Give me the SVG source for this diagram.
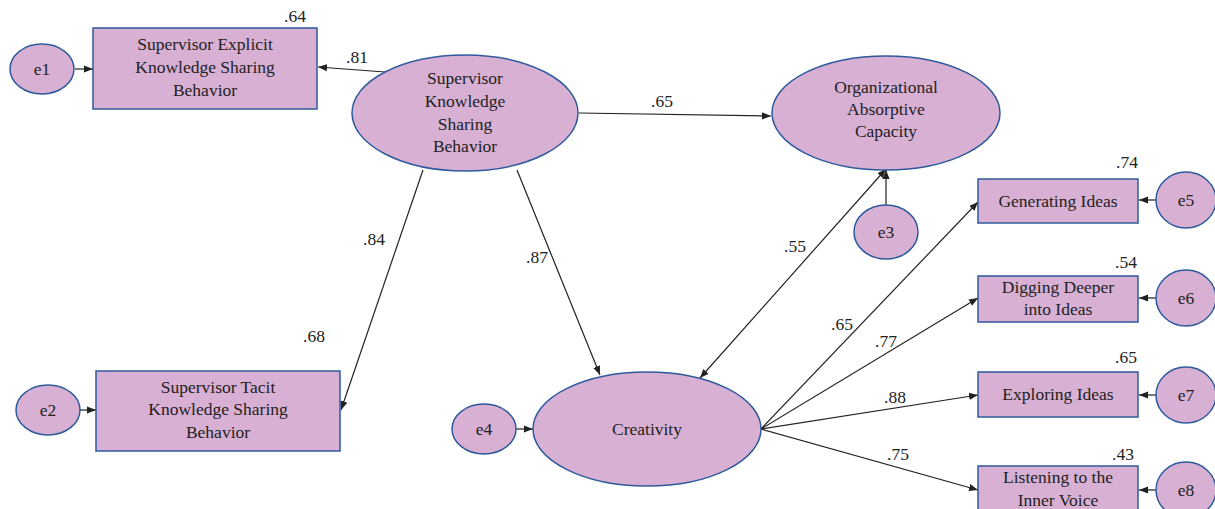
<svg xmlns="http://www.w3.org/2000/svg" width="1215" height="509" viewBox="0 0 1215 509">
<defs>
<marker id="ah" viewBox="0 0 10 10" refX="10" refY="5" markerWidth="9" markerHeight="9" markerUnits="userSpaceOnUse" orient="auto-start-reverse">
<path d="M0,1 L10,5 L0,9 z" fill="#222"/>
</marker>
<style>
.n{fill:#d8b0d4;stroke:#2e5a9c;stroke-width:1.5}
.t{font-family:"Liberation Serif",serif;font-size:17.5px;fill:#222;text-anchor:middle}
.c{stroke:#222;stroke-width:1.2;fill:none;marker-end:url(#ah)}
</style>
</defs>
<rect width="1215" height="509" fill="#fff"/>
<g id="connectors">
<line class="c" x1="75" y1="69" x2="93" y2="69"/>
<line class="c" x1="80" y1="410" x2="96" y2="410"/>
<line class="c" x1="516" y1="429" x2="533" y2="429"/>
<line class="c" x1="385" y1="72" x2="318" y2="67"/>
<line class="c" x1="579" y1="113" x2="771" y2="116"/>
<line class="c" x1="886" y1="205" x2="886" y2="170"/>
<line class="c" x1="423" y1="170" x2="341" y2="410"/>
<line class="c" x1="517" y1="170" x2="600" y2="375"/>
<line class="c" x1="700" y1="378" x2="886" y2="169" marker-start="url(#ah)"/>
<line class="c" x1="761" y1="429" x2="978" y2="202"/>
<line class="c" x1="761" y1="429" x2="978" y2="298"/>
<line class="c" x1="761" y1="429" x2="978" y2="395"/>
<line class="c" x1="761" y1="429" x2="978" y2="490"/>
<line class="c" x1="1156" y1="200" x2="1139" y2="200"/>
<line class="c" x1="1156" y1="298" x2="1139" y2="298"/>
<line class="c" x1="1156" y1="395" x2="1139" y2="395"/>
<line class="c" x1="1156" y1="490" x2="1139" y2="490"/>
<text class="t" x="357" y="63">.81</text>
<text class="t" x="662" y="107">.65</text>
<text class="t" x="374" y="245">.84</text>
<text class="t" x="537" y="263">.87</text>
<text class="t" x="795" y="252">.55</text>
<text class="t" x="842" y="330">.65</text>
<text class="t" x="886" y="347">.77</text>
<text class="t" x="895" y="403">.88</text>
<text class="t" x="898" y="460">.75</text>
</g>
<g id="e1"><ellipse class="n" cx="42" cy="69" rx="32" ry="25"/><text class="t" x="42" y="75">e1</text></g>
<g id="explicit"><rect class="n" x="93" y="28" width="224" height="81"/>
<text class="t" x="205" y="50">Supervisor Explicit</text><text class="t" x="205" y="73">Knowledge Sharing</text><text class="t" x="205" y="96">Behavior</text>
<text class="t" x="295" y="22">.64</text></g>
<g id="sksb"><ellipse class="n" cx="465" cy="113" rx="113" ry="58"/>
<text class="t" x="465" y="84">Supervisor</text><text class="t" x="465" y="107">Knowledge</text><text class="t" x="465" y="130">Sharing</text><text class="t" x="465" y="152">Behavior</text></g>
<g id="oac"><ellipse class="n" cx="886" cy="113" rx="114" ry="57"/>
<text class="t" x="886" y="93">Organizational</text><text class="t" x="886" y="115">Absorptive</text><text class="t" x="886" y="137">Capacity</text></g>
<g id="e3"><ellipse class="n" cx="886" cy="232" rx="32" ry="27"/><text class="t" x="886" y="238">e3</text></g>
<g id="tacit"><rect class="n" x="96" y="371" width="244" height="80"/>
<text class="t" x="218" y="393">Supervisor Tacit</text><text class="t" x="218" y="415">Knowledge Sharing</text><text class="t" x="218" y="438">Behavior</text>
<text class="t" x="314" y="342">.68</text></g>
<g id="e2"><ellipse class="n" cx="48" cy="410" rx="32" ry="25"/><text class="t" x="48" y="416">e2</text></g>
<g id="e4"><ellipse class="n" cx="484" cy="429" rx="32" ry="25"/><text class="t" x="484" y="435">e4</text></g>
<g id="creativity"><ellipse class="n" cx="647" cy="429" rx="114" ry="57"/><text class="t" x="647" y="435">Creativity</text></g>
<g id="gen"><rect class="n" x="978" y="179" width="160" height="44"/><text class="t" x="1058" y="207">Generating Ideas</text><text class="t" x="1127" y="168">.74</text></g>
<g id="dig"><rect class="n" x="978" y="276" width="160" height="46"/><text class="t" x="1058" y="293">Digging Deeper</text><text class="t" x="1058" y="315">into Ideas</text><text class="t" x="1126" y="268">.54</text></g>
<g id="exp"><rect class="n" x="978" y="372" width="160" height="45"/><text class="t" x="1058" y="400">Exploring Ideas</text><text class="t" x="1126" y="363">.65</text></g>
<g id="lis"><rect class="n" x="978" y="466" width="160" height="50"/><text class="t" x="1058" y="483">Listening to the</text><text class="t" x="1058" y="506">Inner Voice</text><text class="t" x="1123" y="460">.43</text></g>
<g id="e5"><ellipse class="n" cx="1186" cy="200" rx="30" ry="28"/><text class="t" x="1186" y="206">e5</text></g>
<g id="e6"><ellipse class="n" cx="1186" cy="298" rx="30" ry="28"/><text class="t" x="1186" y="304">e6</text></g>
<g id="e7"><ellipse class="n" cx="1186" cy="395" rx="30" ry="28"/><text class="t" x="1186" y="401">e7</text></g>
<g id="e8"><ellipse class="n" cx="1186" cy="490" rx="30" ry="28"/><text class="t" x="1186" y="496">e8</text></g>
</svg>
